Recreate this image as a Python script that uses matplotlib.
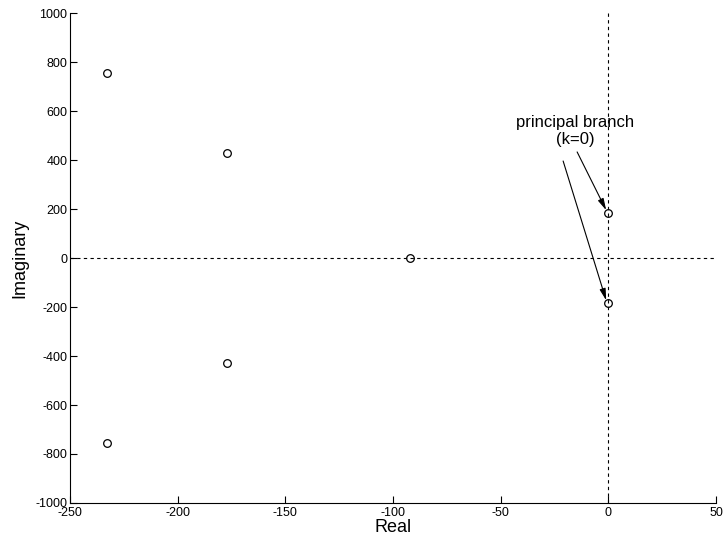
import matplotlib
matplotlib.use("Agg")
import matplotlib.pyplot as plt

plt.rcParams['font.family'] = ['Liberation Sans', 'DejaVu Sans']
plt.rcParams['axes.unicode_minus'] = False

# Roots in the complex plane
real_parts = [-233, -233, -177, -177, -92, 0, 0]
imag_parts = [756, -756, 430, -428, 0, 183, -183]

# Principal branch points the arrows point at
principal_re = [0, 0]
principal_im = [183, -183]

fig = plt.figure(figsize=(7.25, 5.39), dpi=100)
ax = fig.add_axes([0.0966, 0.0668, 0.891, 0.909])

ax.plot(real_parts, imag_parts, 'o', mfc='none', mec='black', ms=5.5, mew=0.9)
ax.axhline(0, color='black', ls='--', lw=0.8, dashes=(3, 3))
ax.axvline(0, color='black', ls='--', lw=0.8, dashes=(3, 3))

ax.set_xlim(-250, 50)
ax.set_ylim(-1000, 1000)
ax.set_xticks(range(-250, 51, 50))
ax.set_yticks(range(-1000, 1001, 200))

ax.spines['top'].set_visible(False)
ax.spines['right'].set_visible(False)
ax.tick_params(direction='in', length=5, labelsize=9)
ax.tick_params(axis='x', pad=3)
ax.tick_params(axis='y', pad=2)

ax.set_xlabel("Real", fontsize=13, labelpad=0)
ax.set_ylabel("Imaginary", fontsize=13, labelpad=5)

ax.text(-15.5, 520, "principal branch\n(k=0)", ha='center', va='center',
        fontsize=12, linespacing=1.15)
arrow_style = dict(arrowstyle='-|>,head_length=0.7,head_width=0.18',
                   color='black', lw=0.8, mutation_scale=10,
                   shrinkA=0, shrinkB=0)
ax.annotate("", xy=(principal_re[0] - 1, principal_im[0] + 12), xytext=(-14.5, 433),
            arrowprops=arrow_style)
ax.annotate("", xy=(principal_re[1] - 1, principal_im[1] + 10), xytext=(-21, 396),
            arrowprops=arrow_style)

fig.savefig("out.png", dpi=100)
